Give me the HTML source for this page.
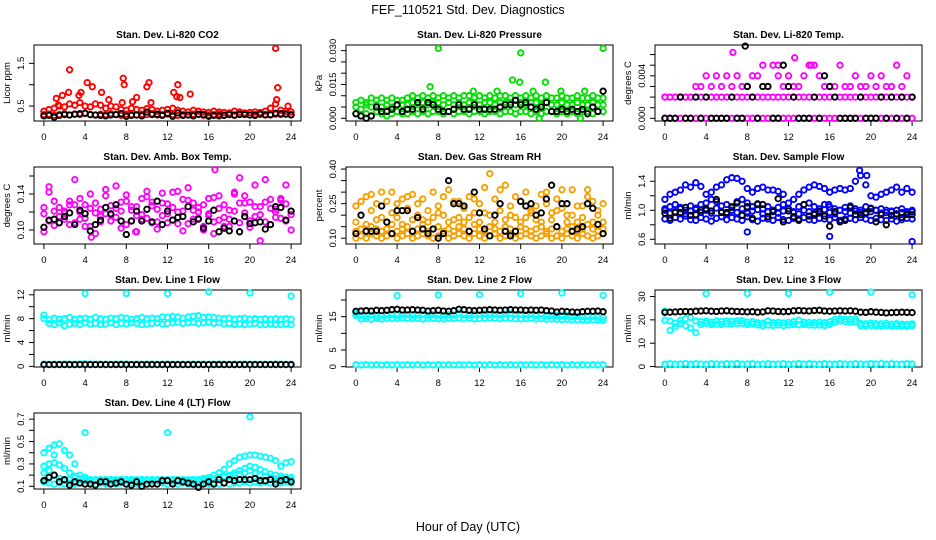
<!DOCTYPE html>
<html><head><meta charset="utf-8"><title>FEF_110521 Std. Dev. Diagnostics</title>
<style>
html,body{margin:0;padding:0;background:#fff;}
svg{display:block;font-family:"Liberation Sans",Arial,sans-serif;}
</style></head>
<body>
<svg id="chart" width="936" height="540" viewBox="0 0 936 540" xmlns="http://www.w3.org/2000/svg">
<rect x="0" y="0" width="936" height="540" fill="#fff"/>
<text x="468" y="14" font-size="12.5" text-anchor="middle">FEF_110521  Std. Dev. Diagnostics</text>
<text x="468" y="531" font-size="12.5" text-anchor="middle">Hour of Day (UTC)</text>
</svg>
<script>
// shared x grid (hours)
const hours=[0,0.5,1,1.5,2,2.5,3,3.5,4,4.5,5,5.5,6,6.5,7,7.5,8,8.5,9,9.5,10,10.5,11,11.5,12,12.5,13,13.5,14,14.5,15,15.5,16,16.5,17,17.5,18,18.5,19,19.5,20,20.5,21,21.5,22,22.5,23,23.5,24];
const xTicks=[0,4,8,12,16,20,24];

// Panel 1: CO2
const co2Base=[0.30,0.31,0.28,0.30,0.32,0.29,0.31,0.30,0.33,0.30,0.29,0.31,0.30,0.32,0.30,0.28,0.31,0.30,0.29,0.31,0.30,0.32,0.29,0.30,0.31,0.30,0.28,0.30,0.29,0.31,0.30,0.28,0.29,0.30,0.31,0.29,0.30,0.28,0.30,0.31,0.29,0.30,0.31,0.30,0.29,0.31,0.30,0.32,0.30];
const co2Mid=[0.38,0.42,0.45,0.50,0.48,0.55,0.52,0.58,0.50,0.48,0.55,0.52,0.45,0.50,0.48,0.42,0.40,0.45,0.42,0.40,0.44,0.42,0.38,0.40,0.42,0.45,0.40,0.38,0.36,0.40,0.38,0.36,0.35,0.38,0.36,0.35,0.34,0.38,0.36,0.34,0.35,0.36,0.35,0.38,0.45,0.55,0.40,0.38,0.36];
const co2OutX=[1.2,1.4,1.8,2.4,2.5,3.4,3.6,4.2,4.7,5.6,6.3,7.6,7.7,7.8,8.6,9.0,10.0,10.2,10.4,12.6,12.9,13.0,13.2,14.2,22.5,22.7,22.6,23.7];
const co2OutY=[0.68,0.52,0.75,0.82,1.35,0.75,0.82,1.05,0.95,0.82,0.65,0.58,1.15,1.0,0.6,0.7,0.95,1.05,0.58,0.82,0.72,1.0,0.7,0.78,1.85,0.93,0.65,0.5];
const co2Blk=[0.27,0.28,0.24,0.28,0.30,0.29,0.31,0.32,0.33,0.30,0.29,0.28,0.27,0.29,0.30,0.32,0.26,0.28,0.29,0.27,0.36,0.30,0.31,0.28,0.33,0.26,0.34,0.28,0.29,0.27,0.31,0.30,0.26,0.28,0.27,0.28,0.30,0.29,0.31,0.30,0.29,0.28,0.31,0.29,0.30,0.33,0.32,0.31,0.29];

// Panel 2: Pressure
const prLow=[0.002,0.001,0.002,0.001,0.003,0.002,0.001,0.002,0.003,0.002,0.002,0.003,0.002,0.003,0.002,0.003,0.003,0.002,0.003,0.002,0.003,0.003,0.002,0.003,0.003,0.002,0.003,0.003,0.002,0.003,0.003,0.002,0.003,0.003,0.002,0.003,0.002,0.003,0.003,0.002,0.003,0.002,0.003,0.002,0.003,0.003,0.002,0.003,0.003];
const prMid=[0.005,0.004,0.006,0.005,0.006,0.005,0.006,0.005,0.006,0.006,0.006,0.007,0.006,0.007,0.006,0.007,0.007,0.006,0.007,0.006,0.007,0.006,0.007,0.007,0.006,0.007,0.007,0.006,0.007,0.007,0.007,0.006,0.007,0.006,0.007,0.007,0.006,0.007,0.006,0.006,0.007,0.006,0.006,0.007,0.006,0.006,0.007,0.006,0.006];
const prHigh=[0.007,0.008,0.007,0.009,0.008,0.009,0.008,0.009,0.008,0.008,0.009,0.010,0.009,0.010,0.009,0.010,0.009,0.010,0.009,0.010,0.009,0.010,0.010,0.009,0.010,0.009,0.010,0.009,0.010,0.010,0.009,0.010,0.009,0.010,0.009,0.010,0.009,0.010,0.009,0.009,0.010,0.009,0.009,0.010,0.009,0.009,0.010,0.009,0.009];
const prOutX=[8.0,16.0,24.0,7.2,15.2,15.9,18.4,17.8,21.8,22.2,13.7,11.4,17.2,19.9];
const prOutY=[0.031,0.029,0.031,0.014,0.017,0.016,0.016,0.000,0.000,0.012,0.012,0.012,0.012,0.012];
const prBlk=[0.002,0.001,0.000,0.001,0.005,0.003,0.003,0.004,0.006,0.003,0.004,0.004,0.007,0.004,0.007,0.006,0.004,0.003,0.003,0.004,0.006,0.004,0.004,0.006,0.004,0.004,0.004,0.004,0.005,0.006,0.006,0.008,0.006,0.007,0.005,0.004,0.005,0.007,0.003,0.003,0.004,0.003,0.004,0.003,0.004,0.002,0.005,0.003,0.012];

// Panel 3: Li-820 Temp
const tpA=[0,0,0,0,0,0,0,0,0,0,0,0,0,0,0,0,0,0,0,0,0,0,0,0,0,0,0,0,0,0,0,0,0,0,0,0,0,0,0,0,0,0,0,0,0,0,0,0,0];
const tpB=[0.002,0.002,0.002,0.002,0.002,0.002,0.002,0.002,0.002,0.002,0.002,0.002,0.002,0.002,0.002,0.002,0.002,0.002,0.002,0.002,0.002,0.002,0.002,0.002,0.002,0.002,0.002,0.002,0.002,0.002,0.002,0.002,0.002,0.002,0.002,0.002,0.002,0.002,0.002,0.002,0.002,0.002,0.002,0.002,0.002,0.002,0.002,0.002,0.002];
const tpC=[0.002,0.002,0.002,0.002,0.002,0.002,0.003,0.003,0.004,0.003,0.004,0.003,0.004,0.003,0.004,0.003,0.003,0.004,0.004,0.005,0.003,0.005,0.004,0.003,0.004,0.003,0.003,0.004,0.005,0.005,0.004,0.003,0.003,0.003,0.005,0.003,0.003,0.004,0.003,0.003,0.004,0.003,0.004,0.003,0.003,0.005,0.003,0.004,0.002];
const tpOutX=[6.6,12.6,14.2,11.0];
const tpOutY=[0.0062,0.0057,0.005,0.005];
const tpBlk=[0,0,0,0.002,0,0,0.002,0,0.002,0,0,0,0,0.002,0,0,0.003,0.002,0,0.003,0.003,0,0,0.005,0.003,0.002,0,0,0,0.002,0,0.004,0.003,0.002,0,0,0,0,0.002,0,0,0,0.002,0,0.002,0,0.002,0,0.002];
const tpBlkOutX=[7.8];
const tpBlkOutY=[0.0068];

// Panel 4: Amb. Box Temp
const abA=[0.118,0.142,0.105,0.125,0.112,0.132,0.108,0.120,0.128,0.104,0.119,0.115,0.138,0.110,0.124,0.131,0.106,0.122,0.116,0.135,0.113,0.127,0.109,0.130,0.118,0.142,0.107,0.121,0.133,0.112,0.125,0.104,0.118,0.136,0.111,0.128,0.122,0.140,0.108,0.119,0.131,0.115,0.126,0.109,0.134,0.120,0.113,0.129,0.117];
const abB=[0.125,0.110,0.132,0.115,0.121,0.106,0.128,0.135,0.113,0.124,0.130,0.109,0.118,0.127,0.114,0.121,0.132,0.110,0.126,0.112,0.137,0.108,0.123,0.116,0.129,0.111,0.120,0.134,0.107,0.122,0.113,0.128,0.135,0.109,0.124,0.114,0.104,0.121,0.130,0.138,0.110,0.126,0.117,0.131,0.106,0.123,0.135,0.110,0.121];
const abC=[0.098,0.148,0.121,0.108,0.119,0.128,0.156,0.112,0.104,0.140,0.096,0.123,0.145,0.117,0.149,0.102,0.139,0.126,0.098,0.117,0.143,0.131,0.101,0.141,0.108,0.125,0.143,0.099,0.147,0.130,0.120,0.100,0.116,0.096,0.138,0.104,0.112,0.142,0.158,0.130,0.103,0.150,0.088,0.156,0.124,0.114,0.133,0.150,0.100];
const abOutX=[16.6,8.9,4.6];
const abOutY=[0.167,0.098,0.092];
const abBlk=[0.103,0.111,0.112,0.108,0.115,0.119,0.106,0.122,0.118,0.099,0.106,0.111,0.125,0.118,0.128,0.110,0.095,0.110,0.121,0.110,0.123,0.109,0.132,0.106,0.121,0.111,0.114,0.115,0.126,0.109,0.112,0.102,0.110,0.122,0.098,0.102,0.099,0.110,0.098,0.115,0.107,0.108,0.109,0.101,0.106,0.126,0.125,0.111,0.121];

// Panel 5: Gas Stream RH
const rhLow=[0.10,0.11,0.10,0.12,0.11,0.10,0.11,0.12,0.10,0.11,0.12,0.10,0.11,0.12,0.11,0.10,0.11,0.12,0.10,0.11,0.12,0.11,0.10,0.12,0.11,0.10,0.11,0.12,0.10,0.11,0.12,0.10,0.11,0.12,0.11,0.10,0.11,0.12,0.10,0.11,0.10,0.12,0.11,0.10,0.12,0.11,0.10,0.11,0.12];
const rhLow2=[0.13,0.14,0.13,0.15,0.14,0.13,0.14,0.16,0.13,0.14,0.15,0.13,0.14,0.16,0.13,0.14,0.15,0.13,0.14,0.13,0.15,0.14,0.13,0.16,0.14,0.13,0.15,0.14,0.13,0.15,0.14,0.13,0.15,0.14,0.13,0.14,0.15,0.13,0.14,0.15,0.13,0.14,0.15,0.13,0.14,0.16,0.14,0.13,0.14];
const rhUp=[0.24,0.20,0.28,0.22,0.18,0.30,0.26,0.21,0.19,0.27,0.23,0.29,0.25,0.18,0.22,0.30,0.24,0.20,0.31,0.26,0.19,0.23,0.28,0.21,0.25,0.32,0.20,0.27,0.22,0.33,0.24,0.19,0.26,0.30,0.22,0.18,0.29,0.25,0.21,0.27,0.23,0.20,0.31,0.24,0.19,0.28,0.26,0.22,0.25];
const rhUp2=[0.17,0.26,0.16,0.29,0.25,0.19,0.17,0.30,0.25,0.16,0.28,0.18,0.20,0.27,0.17,0.19,0.21,0.28,0.17,0.18,0.26,0.17,0.19,0.27,0.17,0.21,0.38,0.17,0.31,0.18,0.20,0.28,0.17,0.19,0.21,0.24,0.17,0.30,0.18,0.22,0.31,0.17,0.20,0.17,0.24,0.31,0.17,0.20,0.17];
const rhBlk=[0.12,0.20,0.13,0.13,0.13,0.24,0.17,0.12,0.22,0.22,0.22,0.13,0.19,0.14,0.12,0.14,0.10,0.12,0.35,0.25,0.25,0.24,0.13,0.30,0.21,0.14,0.11,0.20,0.25,0.13,0.11,0.13,0.26,0.24,0.25,0.20,0.21,0.27,0.33,0.15,0.25,0.25,0.13,0.14,0.15,0.25,0.23,0.16,0.12];

// Panel 6: Sample Flow
const sfLow1=[0.88,0.86,0.90,0.88,0.92,0.87,0.86,0.90,0.88,0.85,0.89,0.91,0.87,0.90,0.88,0.86,0.91,0.87,0.85,0.89,0.88,0.86,0.90,0.87,0.86,0.89,0.88,0.90,0.87,0.86,0.89,0.88,0.87,0.90,0.86,0.88,0.89,0.87,0.90,0.88,0.86,0.89,0.87,0.86,0.88,0.85,0.87,0.89,0.88];
const sfLow2=[1.00,0.96,0.98,1.02,0.95,0.99,1.01,0.97,1.00,0.96,1.03,0.98,0.95,1.00,0.97,1.02,0.96,0.99,1.01,0.95,0.98,1.00,0.96,0.99,1.02,0.97,0.95,1.00,0.98,0.96,0.99,1.01,0.97,0.95,1.00,0.98,0.96,0.99,0.97,0.95,0.98,1.00,0.96,0.97,0.99,0.95,0.97,0.96,0.98];
const sfUp=[1.15,1.22,1.25,1.28,1.35,1.32,1.38,1.33,1.22,1.25,1.32,1.35,1.42,1.45,1.44,1.40,1.30,1.25,1.30,1.32,1.28,1.28,1.26,1.22,1.10,1.15,1.22,1.28,1.32,1.35,1.33,1.30,1.25,1.28,1.30,1.28,1.30,1.40,1.48,1.35,1.20,1.18,1.22,1.25,1.28,1.32,1.25,1.30,1.25];
const sfMid=[1.02,1.05,1.08,1.04,1.00,1.06,1.03,1.08,1.10,1.15,1.12,1.06,1.08,1.05,1.12,1.15,1.10,1.05,1.08,1.02,1.05,1.00,1.04,1.08,1.02,0.98,1.05,1.08,1.10,1.05,1.02,1.08,1.05,1.02,1.00,1.04,1.06,1.02,1.00,1.05,1.03,1.00,1.02,1.00,0.98,1.00,1.02,0.98,1.00];
const sfOutX=[8.0,16.0,24.0,18.9,17.1,19.6,15.9];
const sfOutY=[0.70,0.64,0.57,1.55,0.86,1.48,1.08];
const sfBlk=[0.96,0.89,0.97,0.97,1.04,0.93,0.94,1.00,1.02,0.99,1.15,0.97,0.97,1.04,1.10,0.93,1.05,0.89,1.09,1.08,0.91,0.98,1.16,0.84,0.99,0.91,0.86,1.08,0.92,0.94,0.98,0.92,0.78,0.98,0.84,0.86,1.04,0.94,0.94,0.97,1.02,0.84,0.94,0.80,0.93,0.95,0.90,0.94,0.94];

// Panel 7: Line 1 Flow
const l1Band1=[8.6,7.2,7.0,7.3,6.8,7.1,7.2,7.0,7.3,7.1,7.2,7.0,7.1,7.3,7.0,7.2,7.1,7.3,7.2,7.0,7.1,7.2,7.3,7.1,7.2,7.3,7.4,7.2,7.3,7.4,7.2,7.3,7.4,7.2,7.3,7.1,7.2,7.0,7.1,7.0,7.1,7.2,7.0,7.0,7.1,7.0,7.0,7.1,7.0];
const l1Band2=[8.0,7.8,8.1,7.9,8.0,8.2,7.9,8.0,8.1,7.9,8.2,8.0,7.9,8.1,8.0,8.2,8.1,7.9,8.0,8.2,8.0,8.1,8.0,8.3,8.2,8.4,8.3,8.1,8.3,8.4,8.5,8.2,8.3,8.2,8.1,8.0,8.1,7.9,8.0,8.1,7.9,8.0,7.9,8.0,7.9,8.0,7.9,8.0,7.9];
const l1Zero=[0.40,0.35,0.38,0.36,0.40,0.37,0.35,0.42,0.45,0.38,0.36,0.40,0.37,0.35,0.38,0.42,0.40,0.36,0.37,0.35,0.38,0.40,0.36,0.37,0.40,0.38,0.35,0.37,0.36,0.40,0.38,0.37,0.36,0.38,0.40,0.37,0.35,0.38,0.36,0.40,0.37,0.38,0.36,0.35,0.38,0.40,0.37,0.36,0.38];
const l1OutX=[4,8,12,16,20,24];
const l1OutY=[12.2,12.2,12.2,12.5,12.3,11.8];
const l1Blk=[0.30,0.30,0.30,0.30,0.30,0.30,0.30,0.30,0.30,0.30,0.30,0.30,0.30,0.30,0.30,0.30,0.30,0.30,0.30,0.30,0.30,0.30,0.30,0.30,0.30,0.30,0.30,0.30,0.30,0.30,0.30,0.30,0.30,0.30,0.30,0.30,0.30,0.30,0.30,0.30,0.30,0.30,0.30,0.30,0.30,0.30,0.30,0.30,0.30];

// Panel 8: Line 2 Flow
const l2Band1=[15.4,14.3,14.4,14.2,14.5,14.3,14.4,14.5,14.4,14.6,14.5,14.4,14.5,14.3,14.4,14.5,14.4,14.3,14.5,14.4,14.6,14.4,14.5,14.3,14.4,14.5,14.6,14.5,14.4,14.6,14.5,14.4,14.3,14.4,14.5,14.3,14.4,14.2,14.3,14.2,14.1,14.2,14.0,14.1,14.0,13.9,14.0,13.9,13.9];
const l2Band2=[16.0,15.4,15.2,15.5,15.3,15.4,15.5,15.6,15.4,15.5,15.6,15.4,15.5,15.7,15.4,15.6,15.5,15.4,15.6,15.5,16.0,15.6,15.5,15.7,15.6,15.8,15.6,15.7,15.5,15.8,16.0,15.6,15.7,15.5,15.6,15.4,15.5,15.3,15.4,15.3,15.2,15.3,15.0,15.1,15.0,14.9,15.0,14.8,14.8];
const l2Zero=[0.6,0.5,0.6,0.5,0.6,0.5,0.6,0.5,0.6,0.5,0.6,0.5,0.6,0.5,0.6,0.5,0.6,0.5,0.6,0.5,0.6,0.5,0.6,0.5,0.6,0.5,0.6,0.5,0.6,0.5,0.6,0.5,0.6,0.5,0.6,0.5,0.6,0.5,0.6,0.5,0.6,0.5,0.6,0.5,0.6,0.5,0.6,0.5,0.6];
const l2OutX=[4,8,12,16,20,24];
const l2OutY=[21.3,21.5,21.6,21.9,22.1,21.4];
const l2Blk=[16.6,16.7,16.8,16.7,16.9,16.8,16.9,17.1,17.2,17.0,17.0,17.1,17.0,16.9,16.7,16.8,16.9,16.7,16.6,16.8,17.2,17.1,16.9,16.8,16.9,17.0,17.1,17.0,16.9,17.0,17.1,17.0,17.0,16.9,17.0,16.9,17.0,16.8,16.7,16.4,16.6,16.5,16.4,16.3,16.5,16.6,16.6,16.7,16.5];

// Panel 9: Line 3 Flow
const l3Band1=[19.8,15.5,17.0,18.5,17.5,16.5,14.5,18.0,18.5,18.0,18.2,18.0,18.3,18.2,18.4,18.5,18.0,18.2,17.8,17.5,17.8,17.6,17.8,17.5,17.8,18.0,17.9,18.0,17.8,17.7,17.8,17.6,18.0,19.0,19.5,19.2,19.0,19.3,17.5,17.4,17.6,17.4,17.3,17.5,17.2,17.4,17.3,17.2,17.5];
const l3Band2=[23.8,19.5,18.5,19.8,20.5,21.0,19.5,19.2,19.5,19.0,19.6,19.2,19.5,19.4,19.6,19.7,19.0,19.2,18.8,18.6,19.5,18.8,18.9,18.7,18.9,19.2,19.8,19.0,18.9,18.8,19.0,18.8,19.2,20.2,20.5,20.3,20.2,20.4,18.5,18.3,18.6,18.4,18.3,18.5,18.2,18.4,18.2,18.1,18.3];
const l3Zero=[1.0,1.2,1.0,1.1,1.3,1.0,1.2,1.1,1.0,1.2,1.1,1.0,1.2,1.1,1.3,1.0,1.1,1.2,1.0,1.1,1.2,1.0,1.1,1.2,1.0,1.1,1.3,1.0,1.2,1.1,1.0,1.2,1.1,1.0,1.2,1.1,1.0,1.2,1.1,1.0,1.2,1.1,1.3,1.0,1.2,1.1,1.0,1.2,1.1];
const l3OutX=[4,8,12,16,20,24];
const l3OutY=[31.2,31.3,31.3,31.8,31.9,30.7];
const l3Blk=[23.2,23.3,23.4,23.5,23.6,23.5,23.7,23.8,23.9,23.7,23.6,23.8,23.9,23.7,23.6,23.5,23.4,23.5,23.3,23.4,23.9,23.8,23.6,23.5,23.6,23.9,24.0,23.9,23.8,24.0,24.1,23.8,23.7,23.8,23.9,23.8,23.9,23.7,23.3,23.2,23.5,23.3,23.2,23.0,23.1,23.2,23.3,23.2,23.1];

// Panel 10: Line 4 (LT) Flow
const l4Base1=[0.14,0.13,0.12,0.13,0.12,0.13,0.12,0.13,0.12,0.13,0.12,0.13,0.12,0.13,0.12,0.13,0.12,0.13,0.12,0.13,0.12,0.13,0.12,0.13,0.12,0.13,0.12,0.13,0.12,0.13,0.12,0.13,0.12,0.13,0.12,0.13,0.12,0.13,0.13,0.14,0.13,0.14,0.13,0.14,0.13,0.14,0.13,0.14,0.13];
const l4Base2=[0.22,0.24,0.20,0.17,0.15,0.16,0.18,0.16,0.15,0.16,0.15,0.16,0.15,0.16,0.15,0.16,0.15,0.16,0.15,0.16,0.15,0.16,0.15,0.16,0.15,0.16,0.15,0.16,0.15,0.16,0.15,0.16,0.15,0.17,0.17,0.18,0.19,0.20,0.21,0.22,0.24,0.22,0.20,0.19,0.18,0.17,0.17,0.16,0.16];
const l4Hump1=[0.40,0.44,0.47,0.48,0.42,0.38,0.30,0.20,0.18,0.16,0.16,0.16,0.16,0.16,0.16,0.16,0.16,0.16,0.16,0.16,0.16,0.16,0.16,0.16,0.16,0.16,0.16,0.16,0.16,0.16,0.16,0.17,0.18,0.20,0.22,0.25,0.30,0.33,0.36,0.37,0.38,0.38,0.37,0.36,0.35,0.33,0.28,0.31,0.32];
const l4Hump2=[0.28,0.30,0.31,0.29,0.26,0.22,0.19,0.17,0.16,0.15,0.15,0.15,0.15,0.15,0.15,0.15,0.15,0.15,0.15,0.15,0.15,0.15,0.15,0.15,0.15,0.15,0.15,0.15,0.15,0.15,0.15,0.15,0.16,0.17,0.18,0.19,0.20,0.22,0.24,0.26,0.28,0.27,0.25,0.23,0.21,0.20,0.19,0.18,0.18];
const l4OutX=[4,12,20,0.2,1.0];
const l4OutY=[0.58,0.58,0.72,0.15,0.38];
const l4Blk=[0.15,0.18,0.20,0.14,0.16,0.11,0.14,0.13,0.12,0.12,0.11,0.14,0.14,0.12,0.13,0.14,0.12,0.11,0.14,0.10,0.12,0.12,0.12,0.15,0.15,0.12,0.15,0.14,0.13,0.12,0.09,0.12,0.14,0.12,0.16,0.13,0.16,0.15,0.16,0.16,0.16,0.17,0.15,0.15,0.16,0.12,0.15,0.16,0.14];

const SVGNS='http://www.w3.org/2000/svg';
const svg=document.getElementById('chart');
function mk(tag,attrs,parent){const e=document.createElementNS(SVGNS,tag);for(const k in attrs)e.setAttribute(k,attrs[k]);(parent||svg).appendChild(e);return e;}

function panel(p){
  const g=mk('g',{});
  
  
  const L=p.left,R=p.left+267,T=p.top,B=p.top+p.h;
  const xs=v=>L+9.9+(v)*(247.2/24);
  const ys=v=>B-(v-p.ymin)/(p.ymax-p.ymin)*(B-T);
  const tt=mk('text',{x:(L+R)/2,y:T-7,'font-size':10,'font-weight':'bold','text-anchor':'middle'},g);
  tt.textContent=p.title;
  
  
  const bx=mk('rect',{x:L,y:T,width:R-L,height:B-T,fill:'none',stroke:'#000','stroke-width':1},g);
  
  
  const xa=mk('g',{},g);
  
  
  mk('line',{x1:xs(0),x2:xs(24),y1:B,y2:B,stroke:'#000'},xa);
  xTicks.forEach(t=>{
    mk('line',{x1:xs(t),x2:xs(t),y1:B,y2:B+5,stroke:'#000'},xa);
    const tx=mk('text',{x:xs(t),y:B+19,'font-size':9.5,'text-anchor':'middle'},xa);
    tx.textContent=t;
    
    
  });
  const ya=mk('g',{},g);
  
  
  mk('line',{x1:L,x2:L,y1:ys(p.yticks[0]),y2:ys(p.yticks[p.yticks.length-1]),stroke:'#000'},ya);
  p.yticks.forEach(t=>{mk('line',{x1:L,x2:L-5,y1:ys(t),y2:ys(t),stroke:'#000'},ya);});
  p.ylabels.forEach(t=>{
    const y=ys(parseFloat(t));
    const tx=mk('text',{x:L-10,y:y,'font-size':9.5,'text-anchor':'middle',transform:'rotate(-90 '+(L-10)+' '+y+')'},ya);
    tx.textContent=t;
    
    
  });
  const yt=mk('text',{x:L-24,y:(T+B)/2,'font-size':9.5,'text-anchor':'middle',transform:'rotate(-90 '+(L-24)+' '+(T+B)/2+')'},g);
  yt.textContent=p.ylab;
  
  
  p.series.forEach(s=>{
    const sg=mk('g',{fill:'none',stroke:s.c,'stroke-width':1.9},g);
    
    
    s.y.forEach((v,i)=>{
      const c=mk('circle',{cx:xs(s.x[i]).toFixed(1),cy:ys(v).toFixed(1),r:2.7},sg);
      
      
    });
  });
}

const RED='#ff0000',GRN='#00e000',MAG='#ff00ff',ORG='#f5a000',BLU='#0000ff',CYN='#00ffff',BLK='#000000';
const C1=34,C2=346,C3=655;
panel({name:'co2',title:'Stan. Dev. Li-820 CO2',left:C1,top:45,h:76,ymin:0.15,ymax:1.93,yticks:[0.5,1.0,1.5],ylabels:['0.5','1.5'],ylab:'Licor ppm',
  series:[{n:'red-base',x:hours,y:co2Base,c:RED},{n:'red-mid',x:hours,y:co2Mid,c:RED},{n:'red-outliers',x:co2OutX,y:co2OutY,c:RED},{n:'black-series',x:hours,y:co2Blk,c:BLK}]});
panel({name:'pressure',title:'Stan. Dev. Li-820 Pressure',left:C2,top:45,h:76,ymin:-0.0012,ymax:0.0325,yticks:[0,0.005,0.010,0.015,0.020,0.025,0.030],ylabels:['0.000','0.015','0.030'],ylab:'kPa',
  series:[{n:'green-low',x:hours,y:prLow,c:GRN},{n:'green-mid',x:hours,y:prMid,c:GRN},{n:'green-high',x:hours,y:prHigh,c:GRN},{n:'green-outliers',x:prOutX,y:prOutY,c:GRN},{n:'black-series',x:hours,y:prBlk,c:BLK}]});
panel({name:'temp',title:'Stan. Dev. Li-820 Temp.',left:C3,top:45,h:76,ymin:-0.00025,ymax:0.0069,yticks:[0,0.001,0.002,0.003,0.004,0.005,0.006],ylabels:['0.000','0.004'],ylab:'degrees C',
  series:[{n:'magenta-a',x:hours,y:tpA,c:MAG},{n:'magenta-b',x:hours,y:tpB,c:MAG},{n:'magenta-c',x:hours,y:tpC,c:MAG},{n:'magenta-outliers',x:tpOutX,y:tpOutY,c:MAG},{n:'black-series',x:hours,y:tpBlk,c:BLK},{n:'black-outliers',x:tpBlkOutX,y:tpBlkOutY,c:BLK}]});
panel({name:'amb-box-temp',title:'Stan. Dev. Amb. Box Temp.',left:C1,top:167,h:77,ymin:0.0844,ymax:0.170,yticks:[0.10,0.12,0.14,0.16],ylabels:['0.10','0.14'],ylab:'degrees C',
  series:[{n:'magenta-a',x:hours,y:abA,c:MAG},{n:'magenta-b',x:hours,y:abB,c:MAG},{n:'magenta-c',x:hours,y:abC,c:MAG},{n:'magenta-outliers',x:abOutX,y:abOutY,c:MAG},{n:'black-series',x:hours,y:abBlk,c:BLK}]});
panel({name:'gas-rh',title:'Stan. Dev. Gas Stream RH',left:C2,top:167,h:77,ymin:0.075,ymax:0.409,yticks:[0.10,0.15,0.20,0.25,0.30,0.35,0.40],ylabels:['0.10','0.25','0.40'],ylab:'percent',
  series:[{n:'orange-low',x:hours,y:rhLow,c:ORG},{n:'orange-low2',x:hours,y:rhLow2,c:ORG},{n:'orange-up',x:hours,y:rhUp,c:ORG},{n:'orange-up2',x:hours,y:rhUp2,c:ORG},{n:'black-series',x:hours,y:rhBlk,c:BLK}]});
panel({name:'sample-flow',title:'Stan. Dev. Sample Flow',left:C3,top:167,h:77,ymin:0.535,ymax:1.597,yticks:[0.6,0.8,1.0,1.2,1.4],ylabels:['0.6','1.0','1.4'],ylab:'ml/min',
  series:[{n:'blue-low1',x:hours,y:sfLow1,c:BLU},{n:'blue-low2',x:hours,y:sfLow2,c:BLU},{n:'blue-mid',x:hours,y:sfMid,c:BLU},{n:'blue-up',x:hours,y:sfUp,c:BLU},{n:'blue-outliers',x:sfOutX,y:sfOutY,c:BLU},{n:'black-series',x:hours,y:sfBlk,c:BLK}]});
panel({name:'line1-flow',title:'Stan. Dev. Line 1 Flow',left:C1,top:290,h:77,ymin:-0.1,ymax:12.8,yticks:[0,2,4,6,8,10,12],ylabels:['0','4','8','12'],ylab:'ml/min',
  series:[{n:'cyan-band1',x:hours,y:l1Band1,c:CYN},{n:'cyan-band2',x:hours,y:l1Band2,c:CYN},{n:'cyan-zero',x:hours,y:l1Zero,c:CYN},{n:'cyan-outliers',x:l1OutX,y:l1OutY,c:CYN},{n:'black-series',x:hours,y:l1Blk,c:BLK}]});
panel({name:'line2-flow',title:'Stan. Dev. Line 2 Flow',left:C2,top:290,h:77,ymin:-0.1,ymax:23.0,yticks:[0,5,10,15,20],ylabels:['0','5','15'],ylab:'ml/min',
  series:[{n:'cyan-band1',x:hours,y:l2Band1,c:CYN},{n:'cyan-band2',x:hours,y:l2Band2,c:CYN},{n:'cyan-zero',x:hours,y:l2Zero,c:CYN},{n:'cyan-outliers',x:l2OutX,y:l2OutY,c:CYN},{n:'black-series',x:hours,y:l2Blk,c:BLK}]});
panel({name:'line3-flow',title:'Stan. Dev. Line 3 Flow',left:C3,top:290,h:77,ymin:-0.2,ymax:32.8,yticks:[0,10,20,30],ylabels:['0','10','20','30'],ylab:'ml/min',
  series:[{n:'cyan-band1',x:hours,y:l3Band1,c:CYN},{n:'cyan-band2',x:hours,y:l3Band2,c:CYN},{n:'cyan-zero',x:hours,y:l3Zero,c:CYN},{n:'cyan-outliers',x:l3OutX,y:l3OutY,c:CYN},{n:'black-series',x:hours,y:l3Blk,c:BLK}]});
panel({name:'line4-flow',title:'Stan. Dev. Line 4 (LT) Flow',left:C1,top:413,h:76,ymin:0.076,ymax:0.755,yticks:[0.1,0.2,0.3,0.4,0.5,0.6,0.7],ylabels:['0.1','0.3','0.5','0.7'],ylab:'ml/min',
  series:[{n:'cyan-base1',x:hours,y:l4Base1,c:CYN},{n:'cyan-base2',x:hours,y:l4Base2,c:CYN},{n:'cyan-hump1',x:hours,y:l4Hump1,c:CYN},{n:'cyan-hump2',x:hours,y:l4Hump2,c:CYN},{n:'cyan-outliers',x:l4OutX,y:l4OutY,c:CYN},{n:'black-series',x:hours,y:l4Blk,c:BLK}]});
</script>
</body></html>
